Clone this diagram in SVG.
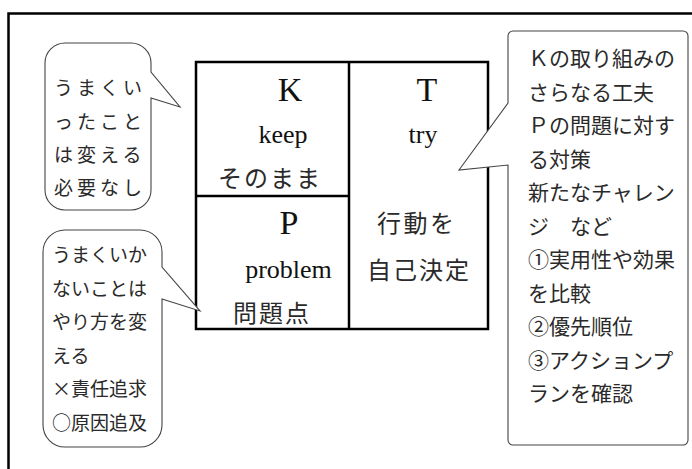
<svg xmlns="http://www.w3.org/2000/svg" width="692" height="469" viewBox="0 0 692 469">
<style>
.frame{fill:none;stroke:#000;stroke-width:2.5}
.grid{fill:none;stroke:#000;stroke-width:2.5}
.bub{fill:#fff;stroke:#444;stroke-width:1.1;stroke-linejoin:miter}
.lat{font-family:"Liberation Serif","Noto Sans CJK JP",serif;fill:#111}
.jp{font-family:"Noto Sans CJK JP","Liberation Serif",sans-serif;fill:#2a2a2a}
</style>
<rect width="692" height="469" fill="#fff"/>
<path class="frame" d="M8.5,469 V13.5 H692"/>
<g id="grid">
<rect class="grid" x="196" y="62" width="292" height="267"/>
<path class="grid" d="M349,62 V329 M196,196 H349"/>
</g>
<g id="cell-k">
<text class="lat" x="290" y="101" font-size="34" text-anchor="middle">K</text>
<text class="lat" x="283" y="143" font-size="26" text-anchor="middle">keep</text>
<text class="jp" x="218" y="187" font-size="24" letter-spacing="2">そのまま</text>
</g>
<g id="cell-t">
<text class="lat" x="427" y="101" font-size="34" text-anchor="middle">T</text>
<text class="lat" x="423" y="143" font-size="26" text-anchor="middle">try</text>
</g>
<g id="cell-p">
<text class="lat" x="289" y="234" font-size="34" text-anchor="middle">P</text>
<text class="lat" x="288.5" y="278" font-size="26" text-anchor="middle">problem</text>
<text class="jp" x="233" y="322" font-size="24" letter-spacing="2">問題点</text>
</g>
<g id="cell-action">
<text class="jp" x="377" y="232" font-size="24" letter-spacing="2.5">行動を</text>
<text class="jp" x="367" y="279" font-size="24" letter-spacing="2">自己決定</text>
</g>
<g id="bubble-keep">
<path class="bub" d="M65,43 H131 A20,20 0 0 1 151,63 V72 L180,107 L151,98 V190 A20,20 0 0 1 131,210 H65 A20,20 0 0 1 45,190 V63 A20,20 0 0 1 65,43 Z"/>
<g class="jp" font-size="19" letter-spacing="4">
<text x="54" y="95">うまくい</text>
<text x="54" y="128.5">ったこと</text>
<text x="54" y="162">は変える</text>
<text x="54" y="195">必要なし</text>
</g>
</g>
<g id="bubble-problem">
<path class="bub" d="M65,230 H140 A22,22 0 0 1 162,252 V267 L200,311 L162,299 V425 A22,22 0 0 1 140,447 H65 A22,22 0 0 1 43,425 V252 A22,22 0 0 1 65,230 Z"/>
<g class="jp" font-size="19">
<text x="52" y="262">うまくいか</text>
<text x="52" y="295.5">ないことは</text>
<text x="52" y="329">やり方を変</text>
<text x="52" y="362.5">える</text>
<text x="52" y="396">×責任追求</text>
<text x="52" y="429.5">○原因追及</text>
</g>
</g>
<g id="bubble-try">
<path class="bub" d="M513,31 H683 A5,5 0 0 1 688,36 V440 A5,5 0 0 1 683,445 H513 A5,5 0 0 1 508,440 V165 L459,170 L508,103 V36 A5,5 0 0 1 513,31 Z"/>
<g class="jp" font-size="21">
<text x="528" y="66">Ｋの取り組みの</text>
<text x="528" y="99.5">さらなる工夫</text>
<text x="528" y="133">Ｐの問題に対す</text>
<text x="528" y="166.5">る対策</text>
<text x="528" y="200">新たなチャレン</text>
<text x="528" y="233.5">ジ　など</text>
<text x="528" y="267">①実用性や効果</text>
<text x="528" y="300.5">を比較</text>
<text x="528" y="334">②優先順位</text>
<text x="528" y="367.5">③アクションプ</text>
<text x="528" y="401">ランを確認</text>
</g>
</g>
<g id="connectors"/>
</svg>
